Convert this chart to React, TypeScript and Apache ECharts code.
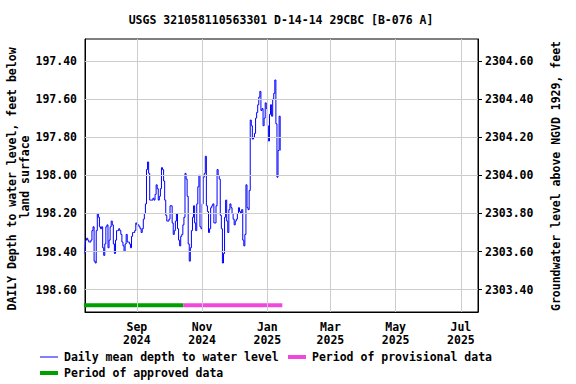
import React, { useEffect, useRef } from "react";
import * as echarts from "echarts";

const TITLE = "USGS 321058110563301 D-14-14 29CBC [B-076 A]";
const LEFT_NAME_1 = "DAILY Depth to water level, feet below";
const LEFT_NAME_2 = "land surface";
const RIGHT_NAME = "Groundwater level above NGVD 1929, feet";

// Daily mean depth to water (feet below land surface), starting 2024-07-14
const START_DATE = "2024-07-14";
const depthValues = [
  198.41, 198.34, 198.33, 198.34, 198.35, 198.35, 198.34, 198.29, 198.27, 198.45,
  198.46, 198.29, 198.20, 198.22, 198.27, 198.28, 198.27, 198.38, 198.42, 198.36,
  198.27, 198.26, 198.38, 198.34, 198.27, 198.24, 198.26, 198.36, 198.41, 198.34,
  198.29, 198.29, 198.28, 198.29, 198.31, 198.35, 198.37, 198.40, 198.36, 198.31,
  198.35, 198.35, 198.36, 198.38, 198.32, 198.30, 198.30, 198.29, 198.25, 198.26,
  198.26, 198.27, 198.28, 198.30, 198.28, 198.23, 198.20, 198.15, 197.97, 197.93,
  197.99, 198.13, 198.13, 198.13, 198.12, 198.13, 198.10, 198.05, 198.07, 198.13,
  198.11, 198.07, 197.96, 197.97, 198.03, 198.13, 198.21, 198.24, 198.24, 198.23,
  198.16, 198.16, 198.25, 198.31, 198.29, 198.24, 198.20, 198.28, 198.34, 198.37,
  198.32, 198.31, 198.26, 198.22, 197.99, 198.02, 198.11, 198.36, 198.45, 198.38,
  198.29, 198.22, 198.16, 198.25, 198.29, 198.15, 198.06, 198.00, 198.27, 198.28,
  198.15, 198.01, 197.99, 197.90, 198.16, 198.19, 198.30, 198.28, 198.17, 198.16,
  198.15, 198.25, 198.25, 198.16, 197.97, 198.00, 198.02, 198.21, 198.28, 198.46,
  198.41, 198.22, 198.13, 198.24, 198.30, 198.18, 198.15, 198.17, 198.20, 198.23,
  198.26, 198.24, 198.23, 198.20, 198.17, 198.19, 198.20, 198.18, 198.34, 198.37,
  198.31, 198.05, 198.17, 198.18, 198.08, 197.71, 197.74, 197.81, 197.80, 197.78,
  197.70, 197.67, 197.63, 197.59, 197.56, 197.66, 197.65, 197.74, 197.70, 197.62,
  197.65, 197.74, 197.82, 197.68, 197.63, 197.69, 197.60, 197.57, 197.50, 197.73,
  198.01, 197.87, 197.69, 197.87,
];

// Approval periods
const approvedPeriod = ["2024-07-13T12:00:00Z", "2024-10-14T12:00:00Z"];
const provisionalPeriod = ["2024-10-14T12:00:00Z", "2025-01-15T00:00:00Z"];
const PERIOD_BAR_DEPTH = 198.682;

// Axis settings
const X_MIN = "2024-07-14T12:00:00Z";
const X_MAX = "2025-07-17T00:00:00Z";
const xTickDates = ["2024-09-01", "2024-11-01", "2025-01-01", "2025-03-01", "2025-05-01", "2025-07-01"];
const depthTicks = [197.4, 197.6, 197.8, 198.0, 198.2, 198.4, 198.6];
const elevationTicks = [2304.6, 2304.4, 2304.2, 2304.0, 2303.8, 2303.6, 2303.4];
const DEPTH_MIN = 197.285;
const DEPTH_MAX = 198.717;
const DATUM_OFFSET = 2502.0; // elevation = offset - depth

const MONTHS = ["Jan", "Feb", "Mar", "Apr", "May", "Jun", "Jul", "Aug", "Sep", "Oct", "Nov", "Dec"];
const FONT = "'DejaVu Sans Mono', monospace";

export default function App() {
  const ref = useRef<HTMLDivElement>(null);

  useEffect(() => {
    if (!ref.current) return;
    const chart = echarts.init(ref.current, undefined, { renderer: "svg" });
    const startMs = Date.parse(START_DATE + "T12:00:00Z");
    const DAY = 86400000;
    const lineData = depthValues.map((v, i) => [startMs + i * DAY, v]);
    const tickMs = xTickDates.map((d) => Date.parse(d + "T00:00:00Z"));
    const textBase = { fontFamily: FONT, fontWeight: "bold" as const, fontSize: 11.5, color: "#000" };
    const gText = (text: string, x: number, y: number, align: string, rot = 0) => ({
      type: "text",
      x,
      y,
      rotation: rot,
      style: { text, fontFamily: FONT, fontWeight: "bold", fontSize: 11.5, fill: "#000", align, verticalAlign: "middle" },
    });

    chart.setOption({
      animation: false,
      backgroundColor: "#fff",
      textStyle: { fontFamily: FONT },
      grid: {
        left: 85,
        right: 98,
        top: 39,
        bottom: 72,
        show: true,
        borderColor: "#000",
        borderWidth: 1,
        backgroundColor: "transparent",
      },
      xAxis: {
        type: "value",
        min: Date.parse(X_MIN),
        max: Date.parse(X_MAX),
        axisLine: { show: true, lineStyle: { color: "#000", width: 1 } },
        axisTick: { show: false },
        splitLine: { show: false },
        axisLabel: {
          customValues: tickMs,
          ...textBase,
          lineHeight: 13,
          margin: 8,
          formatter: (val: number) => {
            const d = new Date(val);
            return MONTHS[d.getUTCMonth()] + "\n" + d.getUTCFullYear();
          },
        },
      },
      yAxis: [
        {
          type: "value",
          inverse: true,
          min: DEPTH_MIN,
          max: DEPTH_MAX,
          position: "left",
          axisLine: { show: true, lineStyle: { color: "#000", width: 1 } },
          axisTick: { show: true, inside: true, length: 4, customValues: depthTicks, lineStyle: { color: "#000" } },
          splitLine: { show: false },
          axisLabel: {
            ...textBase,
            margin: 8,
            customValues: depthTicks,
            formatter: (v: number) => v.toFixed(2),
          },
        },
        {
          type: "value",
          min: DATUM_OFFSET - DEPTH_MAX,
          max: DATUM_OFFSET - DEPTH_MIN,
          position: "right",
          axisLine: { show: true, lineStyle: { color: "#000", width: 1 } },
          axisTick: { show: true, inside: false, length: 4, customValues: elevationTicks, lineStyle: { color: "#000" } },
          splitLine: { show: false },
          axisLabel: {
            ...textBase,
            margin: 7,
            customValues: elevationTicks,
            formatter: (v: number) => v.toFixed(2),
          },
        },
      ],
      series: [
        {
          name: "gridlines",
          type: "line",
          data: [],
          z: 0,
          silent: true,
          markLine: {
            silent: true,
            symbol: "none",
            label: { show: false },
            lineStyle: { color: "#cccccc", width: 1, type: "solid" },
            data: [
              ...tickMs.map((t) => ({ xAxis: t })),
              ...depthTicks.map((v) => ({ yAxis: v })),
            ],
          },
        },
        {
          name: "Period of approved data",
          type: "line",
          yAxisIndex: 0,
          clip: false,
          showSymbol: false,
          z: 2,
          lineStyle: { color: "#00a000", width: 4 },
          data: approvedPeriod.map((d) => [Date.parse(d), PERIOD_BAR_DEPTH]),
        },
        {
          name: "Period of provisional data",
          type: "line",
          yAxisIndex: 0,
          clip: false,
          showSymbol: false,
          z: 2,
          lineStyle: { color: "#f048dc", width: 4 },
          data: provisionalPeriod.map((d) => [Date.parse(d), PERIOD_BAR_DEPTH]),
        },
        {
          name: "Daily mean depth to water level",
          type: "line",
          yAxisIndex: 0,
          showSymbol: false,
          step: "middle",
          z: 3,
          lineStyle: { color: "#0000ff", width: 1 },
          data: lineData,
        },
      ],
      graphic: [
        gText(TITLE, 281, 20, "center"),
        gText(LEFT_NAME_1, 12, 179, "center", Math.PI / 2),
        gText(LEFT_NAME_2, 25, 177, "center", Math.PI / 2),
        gText(RIGHT_NAME, 556, 176, "center", Math.PI / 2),
        { type: "line", shape: { x1: 40, y1: 357, x2: 58, y2: 357 }, style: { stroke: "#0000ff", lineWidth: 1 } },
        gText("Daily mean depth to water level", 64, 357, "left"),
        { type: "line", shape: { x1: 288, y1: 357, x2: 306, y2: 357 }, style: { stroke: "#f048dc", lineWidth: 4 } },
        gText("Period of provisional data", 312, 357, "left"),
        { type: "line", shape: { x1: 40, y1: 373, x2: 58, y2: 373 }, style: { stroke: "#00a000", lineWidth: 4 } },
        gText("Period of approved data", 64, 373, "left"),
      ],
    });

    return () => chart.dispose();
  }, []);

  return <div ref={ref} style={{ position: "fixed", left: 0, top: 0, width: 576, height: 384 }} />;
}
